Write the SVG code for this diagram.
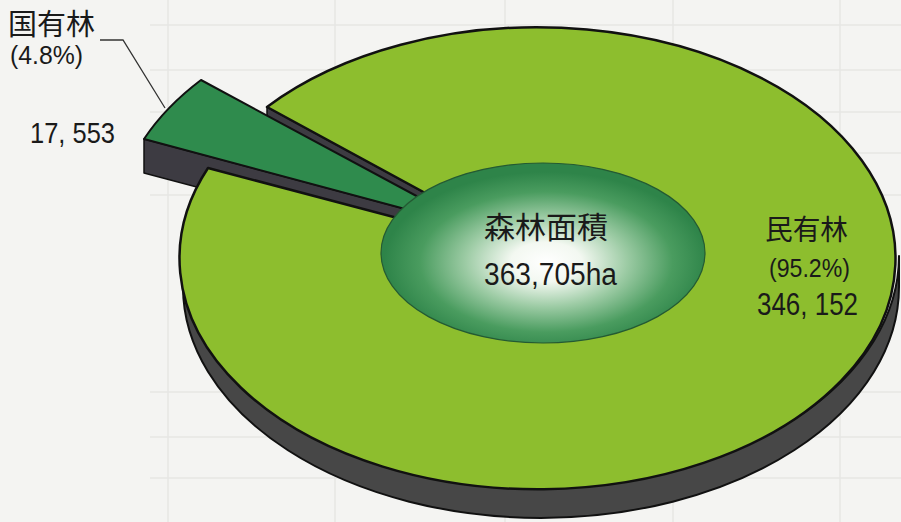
<svg xmlns="http://www.w3.org/2000/svg" width="901" height="522" viewBox="0 0 901 522">
  <defs>
    <radialGradient id="innerGrad" cx="0.51" cy="0.55" r="0.5">
      <stop offset="0" stop-color="#ffffff"/>
      <stop offset="0.22" stop-color="#f3f8f1"/>
      <stop offset="0.5" stop-color="#9ccba4"/>
      <stop offset="0.78" stop-color="#4a9c5f"/>
      <stop offset="1" stop-color="#2e8449"/>
    </radialGradient>
    <style>
      .bg { fill: #f4f4f2; }
      .grid { stroke: #e6e6e4; stroke-width: 1.5; fill: none; }
      .top { fill: #8dbe2e; stroke: #111; stroke-width: 2.5; stroke-linejoin: round; }
      .side { fill: #474747; stroke: #111; stroke-width: 2; stroke-linejoin: round; }
      .cut { fill: #3d3b42; stroke: #111; stroke-width: 1.5; stroke-linejoin: round; }
      .slice { fill: #2f8b4d; stroke: #111; stroke-width: 2; stroke-linejoin: round; }
      .inner { fill: url(#innerGrad); stroke: #245a33; stroke-width: 1.2; }
      .lead { stroke: #333; stroke-width: 1.3; fill: none; }
      .jp { font-family: "Noto Sans CJK JP", "Noto Sans", sans-serif; fill: #1a1a1a; }
      .num { font-family: "Liberation Sans", Arial, sans-serif; fill: #1a1a1a; }
    </style>
  </defs>

  <rect class="bg" x="0" y="0" width="901" height="522"/>
  <g id="background-grid">
    <path class="grid" d="M150,25 H901 M150,70 H901 M150,112 H901 M150,153 H901 M150,195 H901 M150,392 H901 M150,437 H901 M150,478 H901 M168,0 V522 M335,0 V522 M505,0 V522 M673,0 V522 M840,0 V522"/>
  </g>

  <g id="node-minyurin">
    <path class="side" d="M183,256 A358,231 0 0 0 899,256 L899,287 A358,231 0 0 1 183,287 Z"/>
    <polygon class="cut" points="267,107 541,256 541,287 267,138"/>
  </g>

  <g id="node-kokuyurin">
    <polygon class="cut" points="144,139 476,228 476,261 144,173"/>
    <path class="slice" d="M476,228 L144,139 A358,231 0 0 1 201,80 Z"/>
  </g>

  <g id="node-minyurin-top">
    <path class="top" d="M541,256 L208,168 A358,231 0 1 0 267,107 Z"/>
  </g>

  <g id="node-total">
    <ellipse class="inner" cx="543" cy="253" rx="162" ry="90"/>
    <text class="jp" x="484" y="238" font-size="30" textLength="124" lengthAdjust="spacingAndGlyphs">森林面積</text>
    <text class="num" x="484" y="285" font-size="31" textLength="133" lengthAdjust="spacingAndGlyphs">363,705ha</text>
  </g>

  <g id="connectors">
    <polyline class="lead" points="100,40 123,40 165,108"/>
  </g>

  <g id="labels-kokuyurin">
    <text class="jp" x="8" y="35" font-size="29" textLength="87" lengthAdjust="spacingAndGlyphs">国有林</text>
    <text class="num" x="10" y="64" font-size="25" textLength="73" lengthAdjust="spacingAndGlyphs">(4.8%)</text>
    <text class="num" x="30" y="143" font-size="29" textLength="85" lengthAdjust="spacingAndGlyphs">17, 553</text>
  </g>

  <g id="labels-minyurin">
    <text class="jp" x="765" y="240" font-size="28" textLength="83" lengthAdjust="spacingAndGlyphs">民有林</text>
    <text class="num" x="769" y="277" font-size="26" textLength="81" lengthAdjust="spacingAndGlyphs">(95.2%)</text>
    <text class="num" x="757" y="315" font-size="31" textLength="101" lengthAdjust="spacingAndGlyphs">346, 152</text>
  </g>
</svg>
